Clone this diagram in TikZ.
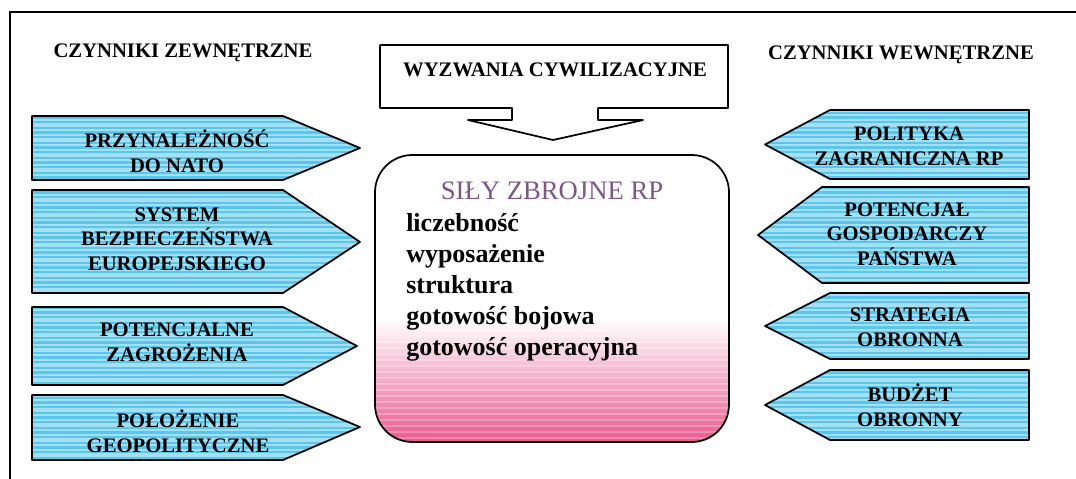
\documentclass[tikz,border=0pt]{standalone}
\usepackage{fontspec}
\setmainfont{Liberation Serif}[BoldFont={Liberation Serif Bold}]
\definecolor{cy}{RGB}{90,198,236}
\definecolor{pk}{RGB}{232,90,142}
\definecolor{sz}{RGB}{125,85,135}
\tikzset{
  frameline/.style={line width=1.2pt},
  outl/.style={draw=black, line width=1.3pt, line join=round},
  lbl/.style={font=\bfseries\fontsize{15.5}{18.5}\selectfont, align=center, inner sep=0pt},
  ttl/.style={font=\bfseries\fontsize{15.5}{18}\selectfont, inner sep=0pt},
  itemtxt/.style={font=\bfseries\fontsize{19.5}{24}\selectfont, anchor=base west, inner sep=0pt},
  stripe/.style={white, opacity=0.45},
}
\newcommand\stripedarrow[1]{%
  \fill[cy] #1;
  \begin{scope}
    \clip #1;
    \foreach \yy [count=\k] in {100,105,...,470} {
      \pgfmathsetmacro\lw{mod(\k,3)==0 ? 2.4 : (mod(\k,3)==1 ? 1.0 : 1.6)}
      \draw[stripe, line width=\lw pt] (0,\yy) -- (1076,\yy);
    }
  \end{scope}
  \draw[outl] #1;
}
\begin{document}
\begin{tikzpicture}[x=0.75pt,y=-0.75pt]
\useasboundingbox (0,0) rectangle (1076,479);
\fill[white] (0,0) rectangle (1076,479);
% frame
\draw[frameline] (10,479) -- (10,12) -- (1076,12);
% titles
\node[ttl] (tl) at (183,53) {CZYNNIKI ZEWNĘTRZNE};
\node[ttl] (tr) at (901,55) {CZYNNIKI WEWNĘTRZNE};
% top box with arrow
\draw[outl, fill=white] (380,45) -- (728,45) -- (728,108) -- (598,108) -- (598,120) -- (643,120)
  -- (553,140) -- (468,120) -- (512,120) -- (512,108) -- (380,108) -- cycle;
\node[ttl] (wyz) at (555,70) {WYZWANIA CYWILIZACYJNE};
% central box
\begin{scope}
  \clip[rounded corners=28pt] (375,155) rectangle (729,442);
  \shade[top color=white, bottom color=pk, middle color=pk!50] (375,318) rectangle (729,442);
  \foreach \yy in {330,336,...,440} \draw[white, opacity=0.25, line width=1pt] (375,\yy) -- (729,\yy);
\end{scope}
\draw[outl, rounded corners=28pt] (375,155) rectangle (729,442);
\node[font=\fontsize{20}{24}\selectfont, text=sz, inner sep=0pt] (sily) at (552,191) {SIŁY ZBROJNE RP};
\node[itemtxt] (i1) at (406,231) {liczebność};
\node[itemtxt] (i2) at (406,262) {wyposażenie};
\node[itemtxt] (i3) at (406,293) {struktura};
\node[itemtxt] (i4) at (406,324) {gotowość bojowa};
\node[itemtxt] (i5) at (406,355) {gotowość operacyjna};
% left arrows
\stripedarrow{(32,116) -- (283,116) -- (360,148) -- (283,180) -- (32,180) -- cycle}
\stripedarrow{(32,190) -- (283,190) -- (360,242) -- (283,293) -- (32,293) -- cycle}
\stripedarrow{(32,307) -- (283,307) -- (357,346) -- (283,385) -- (32,385) -- cycle}
\stripedarrow{(32,395) -- (283,395) -- (360,427) -- (283,460) -- (32,460) -- cycle}
\node[lbl] (l1) at (177,151) {PRZYNALEŻNOŚĆ\\DO NATO};
\node[lbl] (l2) at (177,239) {SYSTEM\\BEZPIECZEŃSTWA\\EUROPEJSKIEGO};
\node[lbl] (l3) at (177,342) {POTENCJALNE\\ZAGROŻENIA};
\node[lbl] (l4) at (178,431) {POŁOŻENIE\\GEOPOLITYCZNE};
% right arrows
\stripedarrow{(1029,110) -- (830,110) -- (765,144.5) -- (830,179) -- (1029,179) -- cycle}
\stripedarrow{(1029,187) -- (822,187) -- (758,235) -- (822,283) -- (1029,283) -- cycle}
\stripedarrow{(1029,293) -- (830,293) -- (765,326) -- (830,359) -- (1029,359) -- cycle}
\stripedarrow{(1029,370) -- (830,370) -- (765,405) -- (830,440) -- (1029,440) -- cycle}
\node[lbl] (r1) at (909,146) {POLITYKA\\ZAGRANICZNA RP};
\node[lbl] (r2) at (907,234) {POTENCJAŁ\\GOSPODARCZY\\PAŃSTWA};
\node[lbl] (r3) at (910,327) {STRATEGIA\\OBRONNA};
\node[lbl] (r4) at (910,405) {BUDŻET\\OBRONNY};
\end{tikzpicture}
\end{document}
